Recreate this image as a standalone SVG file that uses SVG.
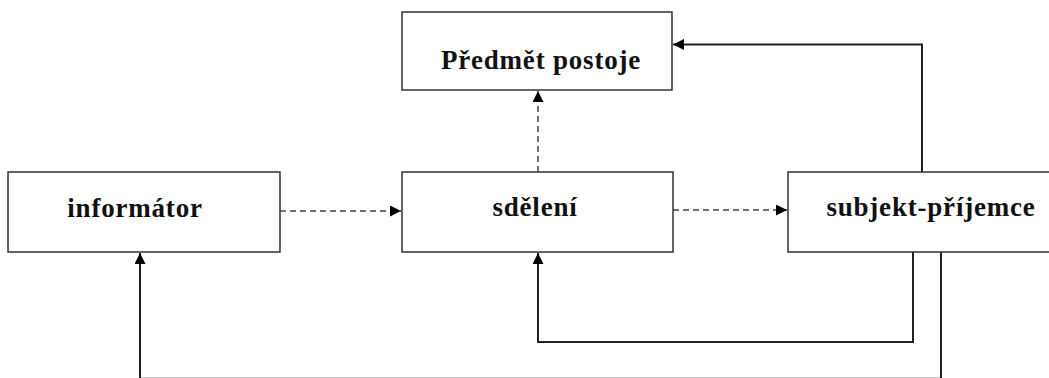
<svg xmlns="http://www.w3.org/2000/svg" width="1049" height="378" viewBox="0 0 1049 378">
<style>
.box{fill:#fff;stroke:#333;stroke-width:1.5}
.lbl{font-family:"Liberation Serif","Times New Roman",serif;font-weight:bold;font-size:27px;fill:#111;text-anchor:middle;letter-spacing:0.8px}
.solid{fill:none;stroke:#222;stroke-width:2}
.dash{fill:none;stroke:#444;stroke-width:1.5;stroke-dasharray:6,4}
</style>
<defs>
<marker id="ah" viewBox="0 0 10 10" refX="10" refY="5" markerWidth="11" markerHeight="11" markerUnits="userSpaceOnUse" orient="auto">
<path d="M0,0 L10,5 L0,10 z" fill="#000"/>
</marker>
</defs>
<g id="connectors">
<path class="dash" d="M280,211 H401" marker-end="url(#ah)"/>
<path class="dash" d="M673,210 H787" marker-end="url(#ah)"/>
<path class="dash" d="M538,172 V91" marker-end="url(#ah)"/>
<path class="solid" d="M922,172 V44.5 H673" marker-end="url(#ah)"/>
<path class="solid" d="M913,252 V342 H538 V253" marker-end="url(#ah)"/>
<path class="solid" d="M941,252 V378.7 H140 V253" marker-end="url(#ah)"/>
</g>
<g id="predmet">
<rect class="box" x="402" y="12" width="270" height="78"/>
<text class="lbl" x="541" y="69">Předmět postoje</text>
</g>
<g id="informator">
<rect class="box" x="8" y="172" width="272" height="80"/>
<text class="lbl" x="135" y="217">informátor</text>
</g>
<g id="sdeleni">
<rect class="box" x="402" y="172" width="271" height="80"/>
<text class="lbl" x="535" y="216">sdělení</text>
</g>
<g id="subjekt">
<rect class="box" x="788" y="172" width="275" height="80"/>
<text class="lbl" x="931" y="216">subjekt-příjemce</text>
</g>
</svg>
